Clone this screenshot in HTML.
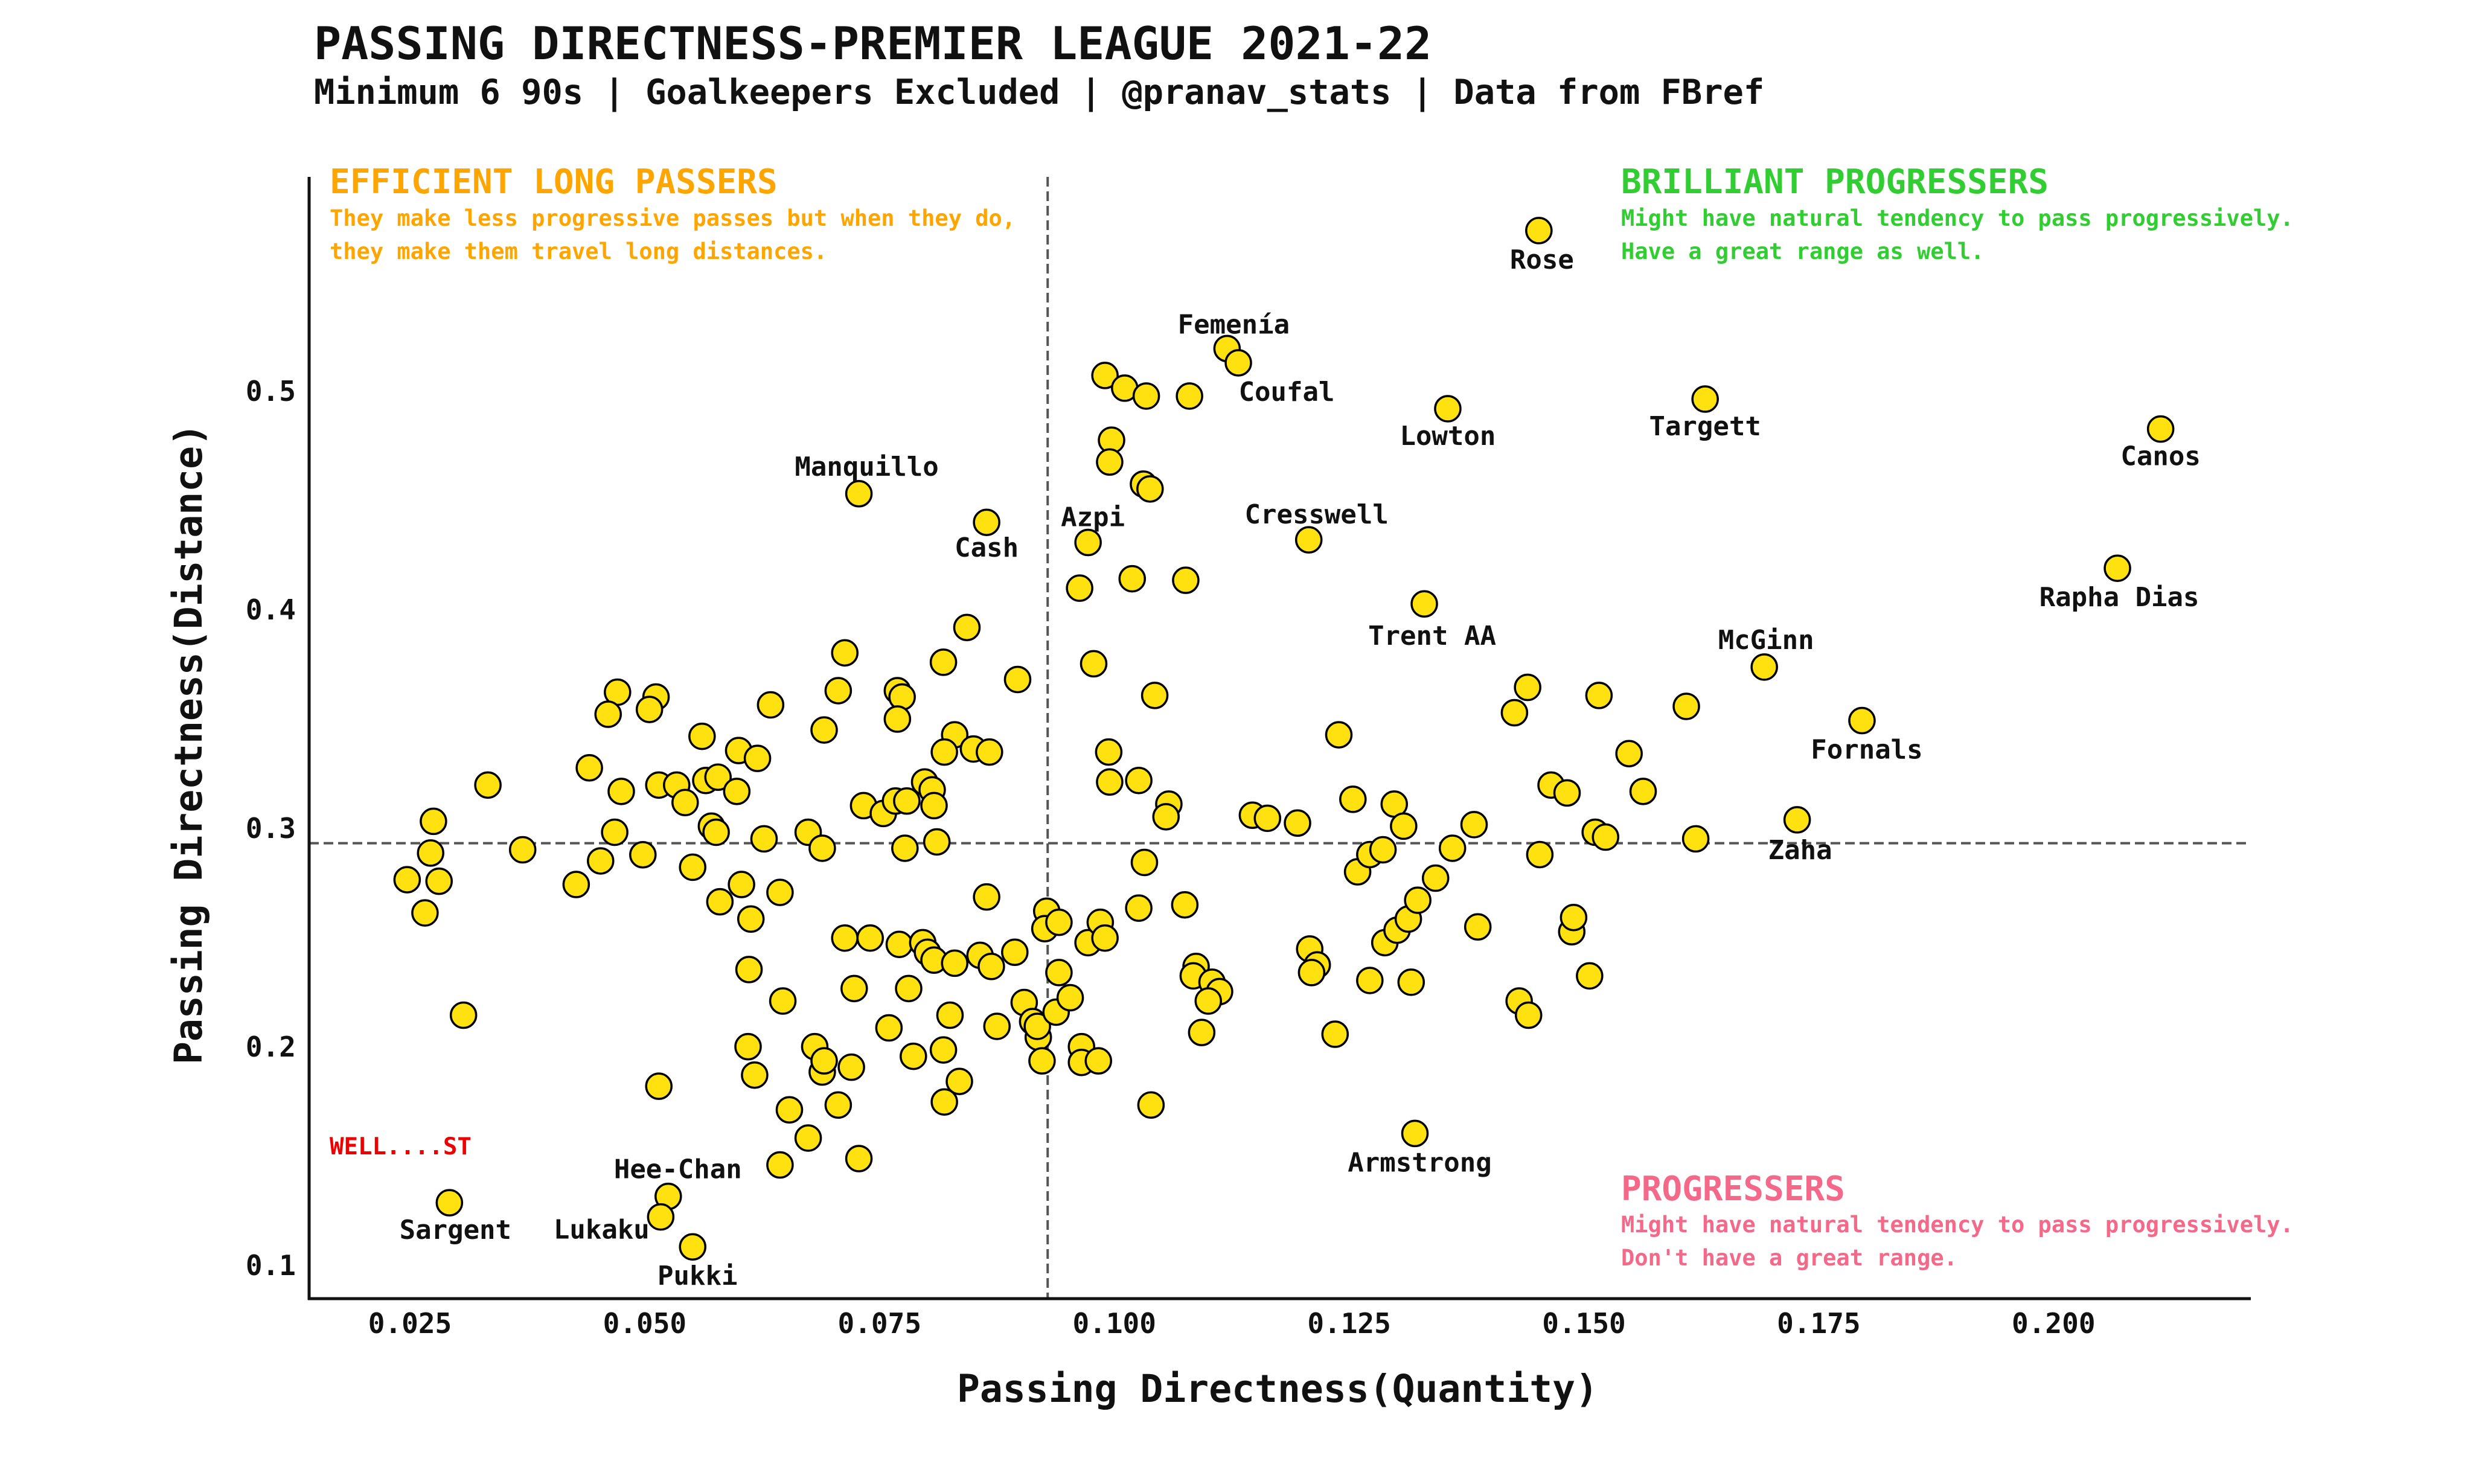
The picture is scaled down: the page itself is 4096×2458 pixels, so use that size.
<!DOCTYPE html>
<html><head><meta charset="utf-8">
<style>
html,body{margin:0;padding:0;background:#fff;}
svg{display:block;font-family:"DejaVu Sans Mono","Liberation Mono",monospace;font-weight:bold;}
</style></head>
<body>
<svg id="chart" width="4096" height="2458" viewBox="0 0 4096 2458" xmlns="http://www.w3.org/2000/svg">
<rect width="4096" height="2458" fill="#fff"/>
<text x="520" y="98" font-size="75" fill="#111">PASSING DIRECTNESS-PREMIER LEAGUE 2021-22</text>
<text x="520" y="172" font-size="57" fill="#111">Minimum 6 90s | Goalkeepers Excluded | @pranav_stats | Data from FBref</text>
<g id="plot"></g>
<text x="546" y="320" font-size="56" fill="#FFA500">EFFICIENT LONG PASSERS</text>
<text x="546" y="374" font-size="37" fill="#FFA500">They make less progressive passes but when they do,</text>
<text x="546" y="429" font-size="37" fill="#FFA500">they make them travel long distances.</text>
<text x="2685" y="320" font-size="56" fill="#32CD32">BRILLIANT PROGRESSERS</text>
<text x="2685" y="374" font-size="37" fill="#32CD32">Might have natural tendency to pass progressively.</text>
<text x="2685" y="429" font-size="37" fill="#32CD32">Have a great range as well.</text>
<text x="2685" y="1988" font-size="56" fill="#F4698A">PROGRESSERS</text>
<text x="2685" y="2041" font-size="37" fill="#F4698A">Might have natural tendency to pass progressively.</text>
<text x="2685" y="2096" font-size="37" fill="#F4698A">Don't have a great range.</text>
<text x="546" y="1912" font-size="39" fill="#EE0000">WELL....ST</text>
<text x="2116" y="2322" font-size="63" text-anchor="middle" fill="#111">Passing Directness(Quantity)</text>
<text x="0" y="0" font-size="63" text-anchor="middle" fill="#111" transform="translate(334,1232) rotate(-90)">Passing Directness(Distance)</text>
</svg>
<script>
const xVals=[0.1452,0.112,0.1132,0.1355,0.1629,0.2114,0.2068,0.1207,0.133,0.1692,0.1796,0.1727,0.132,0.0728,0.0864,0.0972,0.0292,0.0525,0.0517,0.0551,
0.099,0.1011,0.1034,0.108,0.0997,0.0995,0.1031,0.1038,0.1019,0.0963,0.1076,0.0978,0.1043,0.0843,0.0818,0.0897,0.0713,0.0706,0.0769,0.0774,0.0769,0.083,0.0819,0.085,0.0867,0.0691,0.0634,0.06,0.062,0.0561,0.0471,0.0512,0.0505,0.0461,0.0441,0.0475,0.0515,0.0534,0.0543,0.0565,0.0578,0.0598,0.0571,0.0576,0.0333,0.0275,0.0468,0.037,0.0272,0.0247,0.0281,0.0266,0.0453,0.0498,0.0551,0.0427,0.058,0.0603,0.0627,0.0644,0.0613,0.0611,0.0647,0.061,0.0617,0.0307,0.0515,0.0654,0.0674,0.0644,0.0728,0.0706,0.0689,0.0681,0.0691,0.072,0.0723,0.0713,0.074,0.0674,0.0689,0.0733,0.0754,0.0767,0.0779,0.0777,0.0798,0.0806,0.0808,0.0811,0.0771,0.0796,0.0801,0.0808,0.083,0.0857,0.0869,0.0864,0.0781,0.076,0.0786,0.0818,0.0825,0.0835,0.0819,0.0875,0.0894,0.0904,0.0913,0.0919,0.0923,0.0918,0.0928,0.0926,0.0941,0.0938,0.0953,0.0941,0.0965,0.0965,0.0983,0.0972,0.0985,0.099,0.0994,0.0995,0.1026,0.1058,0.1055,0.1032,0.1026,0.1075,0.1039,0.1087,0.1084,0.1104,0.1112,0.11,0.1093,0.1147,0.1163,0.1195,0.1239,0.1254,0.1259,0.1272,0.1286,0.1298,0.1308,0.1208,0.1216,0.121,0.1235,0.1272,0.1288,0.1301,0.1313,0.1323,0.1316,0.1342,0.136,0.1383,0.1387,0.1426,0.144,0.1465,0.1482,0.1453,0.1516,0.1512,0.1523,0.1548,0.1563,0.1609,0.1619,0.1487,0.1489,0.1506,0.1431,0.1441];
const yVals=[0.5735,0.5195,0.513,0.492,0.4964,0.4827,0.419,0.432,0.4027,0.3738,0.3493,0.3039,0.1604,0.4531,0.44,0.4308,0.1287,0.1316,0.1222,0.1085,
0.5072,0.5014,0.4978,0.4978,0.4776,0.4676,0.4575,0.4553,0.4142,0.4099,0.4135,0.3753,0.3608,0.3919,0.376,0.3681,0.3803,0.363,0.363,0.3601,0.35,0.3428,0.3349,0.3363,0.3349,0.345,0.3565,0.3356,0.332,0.3421,0.3623,0.3601,0.3544,0.3522,0.3277,0.3169,0.3198,0.3198,0.3118,0.3219,0.3234,0.3169,0.301,0.2982,0.3198,0.3032,0.2982,0.2902,0.2887,0.2765,0.2758,0.2613,0.2851,0.2879,0.2822,0.2743,0.2664,0.2743,0.2952,0.2707,0.2585,0.2354,0.221,0.2001,0.1871,0.2145,0.182,0.1712,0.1583,0.146,0.1489,0.1734,0.1885,0.2001,0.1936,0.1907,0.2267,0.2498,0.2498,0.2982,0.2909,0.3104,0.3068,0.3125,0.3125,0.2909,0.3212,0.3176,0.3104,0.2938,0.2469,0.2477,0.2433,0.2397,0.2383,0.2419,0.2368,0.2686,0.2267,0.2087,0.1957,0.1986,0.2145,0.1842,0.1748,0.2094,0.2433,0.2203,0.2116,0.2044,0.1936,0.2094,0.2621,0.2541,0.257,0.2159,0.2225,0.234,0.2001,0.1929,0.1936,0.2477,0.257,0.2498,0.3349,0.3212,0.3219,0.3111,0.3053,0.2844,0.2635,0.265,0.1734,0.2368,0.2325,0.2296,0.2253,0.221,0.2066,0.306,0.3046,0.3024,0.3428,0.3133,0.2801,0.288,0.2902,0.3111,0.301,0.2448,0.2375,0.234,0.2058,0.2304,0.2477,0.2534,0.2585,0.2671,0.2296,0.2772,0.2909,0.3017,0.2549,0.3529,0.3645,0.3198,0.3162,0.288,0.3608,0.2982,0.296,0.3342,0.3169,0.3558,0.2952,0.2527,0.2592,0.2325,0.221,0.2145];
const labelNames=["Rose","Femenía","Coufal","Lowton","Targett","Canos","Rapha Dias","Cresswell","Trent AA","McGinn","Fornals","Zaha","Armstrong","Manquillo","Cash","Azpi","Sargent","Hee-Chan","Lukaku","Pukki"];
const labelPoint=[0,1,2,3,4,5,6,7,8,9,10,11,12,13,14,15,16,17,18,19];
const xTicks=[0.025,0.05,0.075,0.1,0.125,0.15,0.175,0.2];
const xTickLabels=["0.025","0.050","0.075","0.100","0.125","0.150","0.175","0.200"];
const yTicks=[0.1,0.2,0.3,0.4,0.5];
const yTickLabels=["0.1","0.2","0.3","0.4","0.5"];
const xMean=0.0929;
const yMean=0.2932;

const NS="http://www.w3.org/2000/svg";
function sx(v){return 679+(v-0.025)*15556;}
function sy(v){return 648+(0.5-v)*3620;}
const plot=document.getElementById('plot');
function mk(tag,attrs){const e=document.createElementNS(NS,tag);for(const k in attrs)e.setAttribute(k,attrs[k]);plot.appendChild(e);return e;}
let vl=mk('line',{x1:sx(xMean),x2:sx(xMean),y1:293,y2:2151,stroke:'#555','stroke-width':4,'stroke-dasharray':'16,8'});


let hl=mk('line',{x1:512,x2:3728,y1:sy(yMean),y2:sy(yMean),stroke:'#555','stroke-width':4,'stroke-dasharray':'16,8'});


for(let i=0;i<xVals.length;i++){
  const c=mk('circle',{cx:sx(xVals[i]),cy:sy(yVals[i]),r:21,fill:'#FFE10F',stroke:'#000','stroke-width':3.5});
  
  
}
const offs={"Rose":[5,63],"Femenía":[11,-25],"Coufal":[80,63],"Lowton":[0,60],"Targett":[0,60],"Canos":[0,60],"Rapha Dias":[3,63],"Cresswell":[13,-27],"Trent AA":[13,68],"McGinn":[3,-30],"Fornals":[8,63],"Zaha":[5,65],"Armstrong":[8,63],"Manquillo":[13,-30],"Cash":[0,57],"Azpi":[8,-27],"Sargent":[10,60],"Hee-Chan":[16,-30],"Lukaku":[-98,36],"Pukki":[8,63]};
for(let j=0;j<labelNames.length;j++){
  const i=labelPoint[j];const o=offs[labelNames[j]];
  const t=mk('text',{x:sx(xVals[i])+o[0],y:sy(yVals[i])+o[1],'font-size':44,'text-anchor':'middle',fill:'#111'});
  t.textContent=labelNames[j];
  
  
}
let ls=mk('line',{x1:512,x2:512,y1:293,y2:2153,stroke:'#111','stroke-width':5});


let bs=mk('line',{x1:510,x2:3728,y1:2151,y2:2151,stroke:'#111','stroke-width':5});


for(let i=0;i<xTicks.length;i++){
  const t=mk('text',{x:sx(xTicks[i]),y:2208,'font-size':46,'text-anchor':'middle',fill:'#111'});
  t.textContent=xTickLabels[i];
  
  
}
for(let i=0;i<yTicks.length;i++){
  const t=mk('text',{x:490,y:sy(yTicks[i])+16,'font-size':46,'text-anchor':'end',fill:'#111'});
  t.textContent=yTickLabels[i];
  
  
}
</script>
</body></html>
